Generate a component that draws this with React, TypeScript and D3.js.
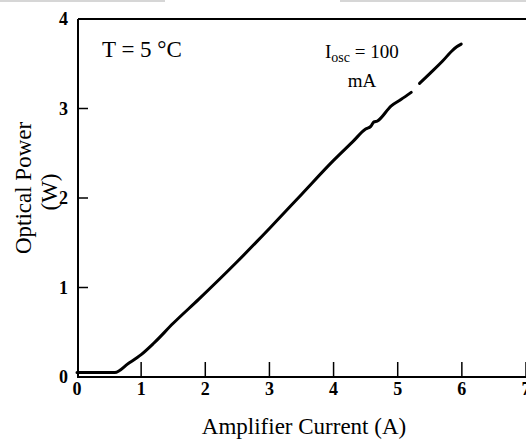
import React from "react";
import * as d3 from "d3";

const xTicks = [0, 1, 2, 3, 4, 5, 6, 7];
const yTicks = [0, 1, 2, 3, 4];
const segAx = [0, 0.3, 0.59, 0.8, 1.0, 1.2, 1.5, 1.9, 2.5, 3.0, 3.5, 4.0, 4.3, 4.5, 4.58, 4.63, 4.68, 4.9, 5.05, 5.21];
const segAy = [0.05, 0.05, 0.05, 0.15, 0.25, 0.38, 0.6, 0.87, 1.29, 1.66, 2.04, 2.42, 2.63, 2.77, 2.8, 2.85, 2.86, 3.03, 3.1, 3.18];
const segBx = [5.34, 5.5, 5.7, 5.84, 5.92, 5.99];
const segBy = [3.28, 3.39, 3.53, 3.64, 3.69, 3.72];

const W = 526;
const H = 445;

export default function App() {
  const x = d3.scaleLinear().domain([0, 7]).range([77, 526]);
  const y = d3.scaleLinear().domain([0, 4]).range([377, 19]);
  const line = d3
    .line<[number, number]>()
    .x((d) => x(d[0]))
    .y((d) => y(d[1]))
    .curve(d3.curveMonotoneX);
  const segA = segAx.map((v, i) => [v, segAy[i]] as [number, number]);
  const segB = segBx.map((v, i) => [v, segBy[i]] as [number, number]);
  const font = "'Liberation Serif', 'Times New Roman', serif";
  return (
    <svg
      width={W}
      height={H}
      style={{ position: "absolute", left: 0, top: 0, background: "#fff" }}
      fontFamily={font}
    >
      <rect x={0} y={0} width={W} height={H} fill="#fff" />
      <line x1={0} x2={165} y1={1} y2={1} stroke="#c8c8c8" strokeWidth={1.5} />
      <line x1={340} x2={526} y1={1} y2={1} stroke="#c8c8c8" strokeWidth={1.5} />
      {/* frame */}
      <line x1={x(0) + 1} x2={W} y1={y(4)} y2={y(4)} stroke="#000" strokeWidth={2} />
      <line x1={x(0) + 1} x2={x(0) + 1} y1={y(4)} y2={y(0)} stroke="#000" strokeWidth={2} />
      <line x1={x(0)} x2={W} y1={y(0)} y2={y(0)} stroke="#000" strokeWidth={2} />
      {xTicks.slice(1).map((t) => (
        <line key={"xt" + t} x1={x(t)} x2={x(t)} y1={y(0)} y2={y(0) - 15} stroke="#000" strokeWidth={1.5} />
      ))}
      {yTicks.slice(1, 4).map((t) => (
        <line key={"yt" + t} x1={x(0) + 1} x2={x(0) + 11} y1={y(t)} y2={y(t)} stroke="#000" strokeWidth={1.5} />
      ))}
      {xTicks.map((t) => (
        <text key={"xl" + t} x={x(t)} y={395} textAnchor="middle" fontSize={18} fontWeight="bold">
          {t}
        </text>
      ))}
      {yTicks.map((t) => (
        <text key={"yl" + t} x={68} y={y(t) + 6} textAnchor="end" fontSize={18} fontWeight="bold">
          {t}
        </text>
      ))}
      <path d={line(segA) || ""} fill="none" stroke="#000" strokeWidth={3} strokeLinejoin="round" strokeLinecap="round" />
      <path d={line(segB) || ""} fill="none" stroke="#000" strokeWidth={3} strokeLinejoin="round" strokeLinecap="round" />
      <text x={102} y={57} fontSize={23}>T = 5 °C</text>
      <text x={325} y={58} fontSize={19}>
        I<tspan fontSize={14} dy={4}>osc</tspan>
        <tspan dy={-4}> = 100</tspan>
      </text>
      <text x={362} y={87} fontSize={19} textAnchor="middle">mA</text>
      <text x={304} y={434} fontSize={23} textAnchor="middle">Amplifier Current (A)</text>
      <text transform="translate(31,188) rotate(-90)" fontSize={23} textAnchor="middle">Optical Power</text>
      <text transform="translate(57,192) rotate(-90)" fontSize={23} textAnchor="middle">(W)</text>
    </svg>
  );
}
